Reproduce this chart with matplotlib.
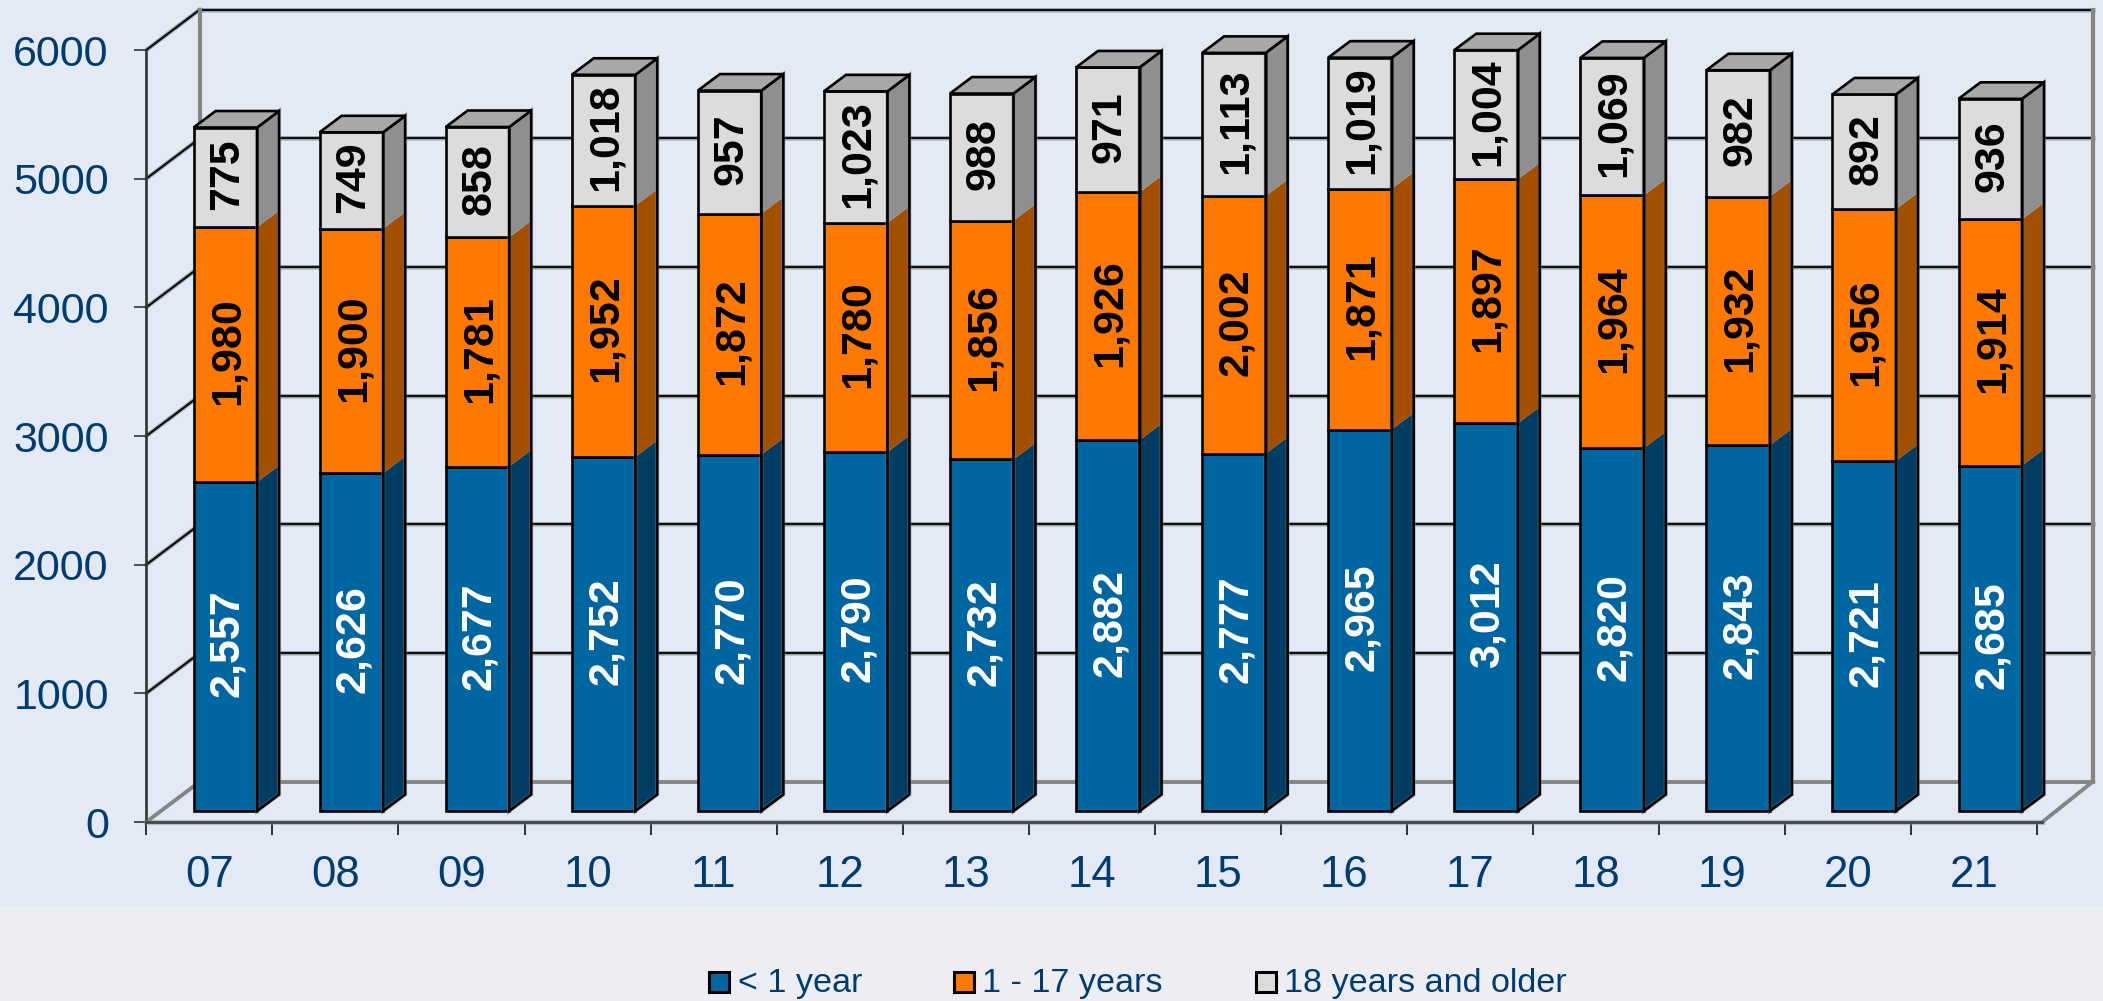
#!/usr/bin/env python3
import matplotlib
matplotlib.use('Agg')
import matplotlib.pyplot as plt
import matplotlib.patheffects as pe
from matplotlib.patches import Rectangle

plt.rcParams['font.family'] = ['Liberation Sans', 'DejaVu Sans']

W, H = 2103, 1001

years = ['07', '08', '09', '10', '11', '12', '13', '14', '15', '16', '17', '18', '19', '20', '21']
under_1 = [2557, 2626, 2677, 2752, 2770, 2790, 2732, 2882, 2777, 2965, 3012, 2820, 2843, 2721, 2685]
age_1_17 = [1980, 1900, 1781, 1952, 1872, 1780, 1856, 1926, 2002, 1871, 1897, 1964, 1932, 1956, 1914]
age_18_up = [775, 749, 858, 1018, 957, 1023, 988, 971, 1113, 1019, 1004, 1069, 982, 892, 936]
y_ticks = [0, 1000, 2000, 3000, 4000, 5000, 6000]
legend_labels = ['< 1 year', '1 - 17 years', '18 years and older']

TEXT = '#003C71'
FRONT = ['#0066A1', '#FF7900', '#DCDCDC']
SIDE = ['#003D63', '#A34F00', '#8F8F8F']
TOP = '#A8A8A8'
LABEL = ['white', 'black', 'black']
BG_TOP = '#E3E9F5'
BG_BOTTOM = '#ECEEF4'

# pixel box of the front plane of the axes
LEFT, RIGHT = 146.3, 2037.3
BASE, CEIL = 822.0, 50.0
PX_X = (RIGHT - LEFT) / 15
PX_Y = (BASE - CEIL) / 6000

# 3d look: depth offsets, converted from pixels to data units
WALL_DX, WALL_DY = 53.7 / PX_X, 40.5 / PX_Y
BAR_DX, BAR_DY = 16 / PX_X, 11 / PX_Y
BAR_DEPTH_X, BAR_DEPTH_Y = 22 / PX_X, 16.5 / PX_Y
BAR_W = 63.5 / PX_X
# the comma pulls the rotated labels off centre
LABEL_DX, LABEL_DY = 2 / PX_X, 3 / PX_Y

fig = plt.figure(figsize=(W / 100, H / 100), dpi=100, facecolor=BG_BOTTOM)
fig.add_artist(Rectangle((0, 1 - 906 / H), 1, 906 / H, transform=fig.transFigure,
                         facecolor=BG_TOP, edgecolor='none', zorder=-5))

ax = fig.add_axes([LEFT / W, 1 - BASE / H, (RIGHT - LEFT) / W, (BASE - CEIL) / H])
ax.set_xlim(0, 15)
ax.set_ylim(0, 6000)
ax.patch.set_visible(False)
for spine in ax.spines.values():
    spine.set_visible(False)

halo = [pe.Stroke(linewidth=3.4, foreground='#8E9099', alpha=0.5), pe.Normal()]
bar_halo = [pe.Stroke(linewidth=3.0, foreground='#8E9099', alpha=0.45), pe.Normal()]
wall_right = 15 + (2093 - RIGHT) / PX_X

# walls and grid
for v in y_ticks:
    if v == 0:
        color, lw, effects = '#858585', 2.8, None
    else:
        color, lw, effects = '#111111', 1.7, halo
    ax.plot([0, WALL_DX], [v, v + WALL_DY], color=color, lw=lw, clip_on=False,
            zorder=1, path_effects=effects, solid_capstyle='round')
    ax.plot([WALL_DX, wall_right], [v + WALL_DY, v + WALL_DY], color=color, lw=lw,
            clip_on=False, zorder=1, path_effects=effects)
ax.plot([WALL_DX, WALL_DX], [WALL_DY, 6000 + WALL_DY], color='#858585', lw=3, clip_on=False, zorder=1)
ax.plot([wall_right, wall_right], [WALL_DY, 6000 + WALL_DY], color='#858585', lw=3, clip_on=False, zorder=1)
ax.plot([15.04, wall_right], [0, WALL_DY], color='#858585', lw=2.8, clip_on=False, zorder=1)

# front axis lines
ax.plot([0, 0], [0, 6000], color='#333333', lw=1.9, clip_on=False, zorder=2)
ax.plot([0, 15.04], [0, 0], color='#444444', lw=2.0, clip_on=False, zorder=2,
        path_effects=[pe.Stroke(linewidth=3.8, foreground='#8E9099', alpha=0.5), pe.Normal()])

# stacked bars
for i, year in enumerate(years):
    x0 = i + 0.5 + BAR_DX - BAR_W / 2
    x1 = x0 + BAR_W
    bottom = 0
    for s, series in enumerate([under_1, age_1_17, age_18_up]):
        v = series[i]
        y0 = bottom + BAR_DY
        y1 = y0 + v
        ax.fill([x1, x1 + BAR_DEPTH_X, x1 + BAR_DEPTH_X, x1],
                [y0, y0 + BAR_DEPTH_Y, y1 + BAR_DEPTH_Y, y1],
                facecolor=SIDE[s], edgecolor='none', clip_on=False, zorder=3)
        ax.bar(x0, v, width=BAR_W, bottom=y0, align='edge', color=FRONT[s],
               edgecolor='black', linewidth=1.9, clip_on=False, zorder=4)
        ax.text((x0 + x1) / 2 + LABEL_DX, (y0 + y1) / 2 + LABEL_DY, f'{v:,}', rotation=90,
                ha='center', va='center', rotation_mode='anchor', color=LABEL[s],
                fontsize=31, fontweight='bold', zorder=6)
        bottom += v
    y_low = BAR_DY
    y_top = BAR_DY + bottom
    # outline of the side, then the lid
    ax.fill([x1, x1 + BAR_DEPTH_X, x1 + BAR_DEPTH_X, x1],
            [y_low, y_low + BAR_DEPTH_Y, y_top + BAR_DEPTH_Y, y_top],
            facecolor='none', edgecolor='black', linewidth=1.9, clip_on=False, zorder=5,
            path_effects=bar_halo)
    ax.fill([x0, x0 + BAR_DEPTH_X, x1 + BAR_DEPTH_X, x1],
            [y_top, y_top + BAR_DEPTH_Y, y_top + BAR_DEPTH_Y, y_top],
            facecolor=TOP, edgecolor='black', linewidth=1.9, clip_on=False, zorder=5)

# ticks
ax.set_yticks(y_ticks)
ax.set_yticklabels([str(v) for v in y_ticks], fontsize=31, color=TEXT)
ax.tick_params(axis='y', length=9, width=1.2, color='#333333', pad=18)
ax.set_xticks(range(16))
ax.set_xticklabels([''] * 16)
ax.tick_params(axis='x', length=9.5, width=1.2, color='#111111')
for i, year in enumerate(years):
    ax.text(i + 0.5, -(887 - BASE) / (BASE - CEIL), year, transform=ax.get_xaxis_transform(),
            ha='center', va='baseline', fontsize=31.5, color=TEXT)

# legend, placed by hand
legend_box = [709, 954, 1256]
legend_text = [737.5, 982, 1284]
for s, label in enumerate(legend_labels):
    fig.add_artist(Rectangle((legend_box[s] / W, 1 - 992 / H), 20 / W, 20 / H,
                             transform=fig.transFigure, facecolor=FRONT[s],
                             edgecolor='black', linewidth=2.2))
    fig.text(legend_text[s] / W, 1 - 992 / H, label, fontsize=24.6, color=TEXT,
             ha='left', va='baseline')

fig.savefig('out.png', dpi=100, facecolor=fig.get_facecolor())
plt.close(fig)
